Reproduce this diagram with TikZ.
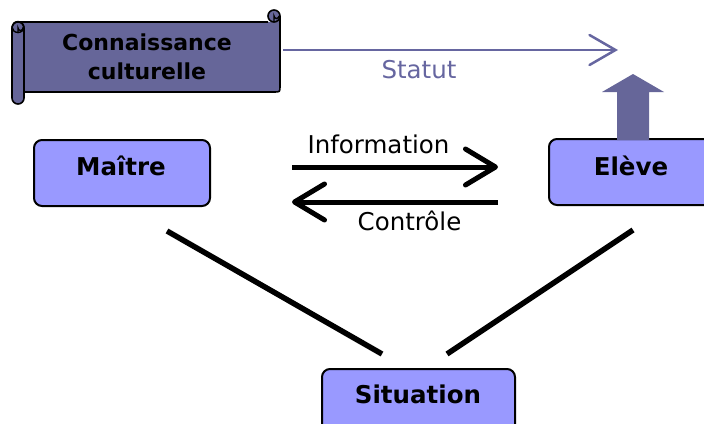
\documentclass[tikz,border=0pt]{standalone}
\usepackage{fontspec}
\setmainfont{DejaVu Sans}
\usetikzlibrary{arrows.meta}
\definecolor{boxfill}{HTML}{9999FF}
\definecolor{scrollfill}{HTML}{666699}
\definecolor{statcol}{HTML}{6666A0}
\tikzset{
  pbox/.style={draw=black, line width=2pt, rounded corners=8pt, fill=boxfill, minimum height=66pt, inner sep=0pt},
  blabel/.style={font=\fontsize{24.5}{28}\selectfont\bfseries, anchor=base, inner sep=0pt},
  rlabel/.style={font=\fontsize{24.5}{28}\selectfont, anchor=base, inner sep=0pt},
  bigarrow/.style={line width=5pt, -{Straight Barb[length=30pt,width=36pt,line cap=round,line join=round]}},
  tie/.style={line width=5.5pt},
}
\begin{document}
\begin{tikzpicture}[x=1pt,y=-1pt]
\useasboundingbox (0,0) rectangle (704,423);

% scroll
\fill[scrollfill] (18,22) -- (274,22) -- (274,10) -- (280,16) -- (280,86) .. controls (280,92) .. (274,92) -- (18,92) -- cycle;
\draw[line width=1.6pt,line join=round] (18,22) -- (268,22) (280,16) -- (280,86) .. controls (280,92) .. (274,92) -- (24,92);
\draw[line width=1.6pt,fill=scrollfill] (274,16) circle[radius=6];
\draw[line width=1.4pt] (274,22) -- (274,16) arc[start angle=180,end angle=0,radius=2.5];
\draw[line width=1.6pt,fill=scrollfill,rounded corners=6pt] (12,22) rectangle (24,104);
\draw[line width=1.4pt] (24,27) arc[start angle=0,end angle=360,x radius=6,y radius=5.5];
\draw[line width=1.4pt] (18,33) -- (18,28) arc[start angle=180,end angle=0,radius=2.5] -- (23,30);
\node[font=\fontsize{22}{29}\selectfont\bfseries, align=center, inner sep=0pt] (cc) at (147,57) {Connaissance\\culturelle};

% boxes
\node[pbox, minimum width=176pt] (maitre) at (122,173) {};
\node[pbox, minimum width=164pt] (eleve) at (631,172) {};
\node[pbox, minimum width=193pt] (situation) at (418.5,402) {};
\node[blabel] (tm) at (121,175) {Maître};
\node[blabel] (te) at (631,175) {Elève};
\node[blabel] (ts) at (418,403) {Situation};

% statut arrow
\coordinate (st1) at (283,50);
\coordinate (st2) at (618,50);
\draw[statcol, line width=2.5pt, -{Straight Barb[length=26pt,width=30pt,line cap=round]}] (st1) -- (st2);
\node[rlabel, text=statcol] (tstat) at (419,78) {Statut};

% up arrow
\fill[scrollfill] (617,140) -- (617,92) -- (602,92) -- (633,74) -- (664,92) -- (649,92) -- (649,140) -- cycle;

% information / controle
\coordinate (i1) at (292,167);
\coordinate (i2) at (498,167);
\coordinate (c1) at (498,202);
\coordinate (c2) at (292,202);
\draw[bigarrow] (i1) -- (i2);
\draw[bigarrow] (c1) -- (c2);
\node[rlabel] (tinfo) at (378.5,153) {Information};
\node[rlabel] (tctrl) at (409.5,230) {Contrôle};

% triangle sides
\coordinate (m1) at (167,231);
\coordinate (m2) at (382,354);
\coordinate (e1) at (633,230);
\coordinate (e2) at (447,354);
\draw[tie] (m1) -- (m2);
\draw[tie] (e1) -- (e2);
\end{tikzpicture}
\end{document}
